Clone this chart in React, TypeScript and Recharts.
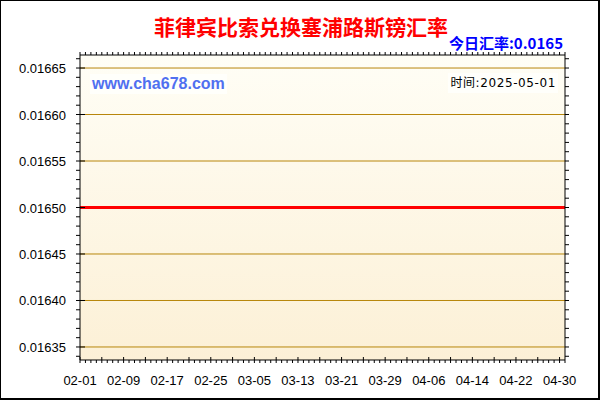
import React from 'react'
import { LineChart, Line, XAxis, YAxis, CartesianGrid, ReferenceLine } from 'recharts'

// daily dates shown on the chart, 02-01 .. 05-01
const dates = [
  '02-01', '02-02', '02-03', '02-04', '02-05', '02-06', '02-07', '02-08', '02-09', '02-10',
  '02-11', '02-12', '02-13', '02-14', '02-15', '02-16', '02-17', '02-18', '02-19', '02-20',
  '02-21', '02-22', '02-23', '02-24', '02-25', '02-26', '02-27', '02-28',
  '03-01', '03-02', '03-03', '03-04', '03-05', '03-06', '03-07', '03-08', '03-09', '03-10',
  '03-11', '03-12', '03-13', '03-14', '03-15', '03-16', '03-17', '03-18', '03-19', '03-20',
  '03-21', '03-22', '03-23', '03-24', '03-25', '03-26', '03-27', '03-28', '03-29', '03-30', '03-31',
  '04-01', '04-02', '04-03', '04-04', '04-05', '04-06', '04-07', '04-08', '04-09', '04-10',
  '04-11', '04-12', '04-13', '04-14', '04-15', '04-16', '04-17', '04-18', '04-19', '04-20',
  '04-21', '04-22', '04-23', '04-24', '04-25', '04-26', '04-27', '04-28', '04-29', '04-30',
  '05-01',
]

// PHP -> CYP rate, flat over the period
const rates = [
  0.0165, 0.0165, 0.0165, 0.0165, 0.0165, 0.0165, 0.0165, 0.0165, 0.0165, 0.0165,
  0.0165, 0.0165, 0.0165, 0.0165, 0.0165, 0.0165, 0.0165, 0.0165, 0.0165, 0.0165,
  0.0165, 0.0165, 0.0165, 0.0165, 0.0165, 0.0165, 0.0165, 0.0165,
  0.0165, 0.0165, 0.0165, 0.0165, 0.0165, 0.0165, 0.0165, 0.0165, 0.0165, 0.0165,
  0.0165, 0.0165, 0.0165, 0.0165, 0.0165, 0.0165, 0.0165, 0.0165, 0.0165, 0.0165,
  0.0165, 0.0165, 0.0165, 0.0165, 0.0165, 0.0165, 0.0165, 0.0165, 0.0165, 0.0165, 0.0165,
  0.0165, 0.0165, 0.0165, 0.0165, 0.0165, 0.0165, 0.0165, 0.0165, 0.0165, 0.0165,
  0.0165, 0.0165, 0.0165, 0.0165, 0.0165, 0.0165, 0.0165, 0.0165, 0.0165, 0.0165,
  0.0165, 0.0165, 0.0165, 0.0165, 0.0165, 0.0165, 0.0165, 0.0165, 0.0165, 0.0165,
  0.0165,
]

const xLabels = ['02-01', '02-09', '02-17', '02-25', '03-05', '03-13', '03-21', '03-29', '04-06', '04-14', '04-22', '04-30']
const yLabels = [0.01635, 0.0164, 0.01645, 0.0165, 0.01655, 0.0166, 0.01665]
const yMinorTicks = [
  0.01634, 0.01635, 0.01636, 0.01637, 0.01638, 0.01639, 0.0164, 0.01641, 0.01642, 0.01643, 0.01644,
  0.01645, 0.01646, 0.01647, 0.01648, 0.01649, 0.0165, 0.01651, 0.01652, 0.01653, 0.01654, 0.01655,
  0.01656, 0.01657, 0.01658, 0.01659, 0.0166, 0.01661, 0.01662, 0.01663, 0.01664, 0.01665, 0.01666,
]

const title = '菲律宾比索兑换塞浦路斯镑汇率'
const todayRate = '今日汇率:0.0165'
const timeText = '时间:2025-05-01'
const site = 'www.cha678.com'

const data = dates.map((d, i) => ({ i, date: d, rate: rates[i] }))
const xTicks = data.map((d) => d.i)

const latin = '"Liberation Sans", Arial, sans-serif'
const cjk = '"Noto Sans CJK SC", "Liberation Sans", sans-serif'

const isLabelY = (v: number) => yLabels.some((l) => Math.abs(l - v) < 1e-9)

const BottomTick = (props: any) => {
  const { x, y, payload } = props
  const i = payload.value
  const major = i % 4 === 0
  const label = xLabels.includes(dates[i])
  return (
    <g>
      <line x1={x} x2={x} y1={major ? y - 3 : y} y2={y + 3} stroke="#000" />
      {label && (
        <text x={x} y={y + 25} textAnchor="middle" fontSize={13} fontFamily={latin} fill="#000">
          {dates[i]}
        </text>
      )}
    </g>
  )
}

const TopTick = (props: any) => {
  const { x, y } = props
  return <line x1={x} x2={x} y1={y} y2={y - 3} stroke="#000" />
}

const LeftTick = (props: any) => {
  const { x, y, payload } = props
  const v = payload.value
  const major = isLabelY(v)
  return (
    <g>
      <line x1={x - 4} x2={major ? x + 5 : x} y1={y} y2={y} stroke="#000" />
      {major && (
        <text x={x - 14} y={y + 5} textAnchor="end" fontSize={13} fontFamily={latin} fill="#000">
          {v.toFixed(5)}
        </text>
      )}
    </g>
  )
}

const RightTick = (props: any) => {
  const { x, y } = props
  return <line x1={x} x2={x + 4} y1={y} y2={y} stroke="#000" />
}

export default function App() {
  return (
    <div
      style={{
        position: 'absolute',
        left: 0,
        top: 0,
        width: 600,
        height: 400,
        boxSizing: 'border-box',
        borderLeft: '1px solid #000',
        borderTop: '1px solid #000',
        borderRight: '2px solid #000',
        borderBottom: '2px solid #000',
        background: '#fff',
        overflow: 'hidden',
      }}
    >
      <div style={{ position: 'absolute', left: -1, top: -1 }}>
        <LineChart width={600} height={400} data={data} margin={{ top: 45, left: 10, right: 25, bottom: 10 }}>
          <defs>
            <linearGradient id="plotBg" x1="0" y1="0" x2="0" y2="1">
              <stop offset="0%" stopColor="#fffef6" />
              <stop offset="100%" stopColor="#fcf0d6" />
            </linearGradient>
          </defs>
          <CartesianGrid horizontal={false} vertical={false} fill="url(#plotBg)" fillOpacity={1} />
          {yLabels.map((v) => (
            <ReferenceLine key={v} y={v} yAxisId="left" stroke="#b8860b" strokeWidth={1} />
          ))}
          <XAxis
            xAxisId="bottom"
            dataKey="i"
            type="number"
            domain={[0, 89]}
            ticks={xTicks}
            interval={0}
            height={30}
            tickSize={0}
            tickMargin={0}
            tickLine={false}
            axisLine={{ stroke: '#000' }}
            tick={<BottomTick />}
          />
          <XAxis
            xAxisId="top"
            orientation="top"
            dataKey="i"
            type="number"
            domain={[0, 89]}
            ticks={xTicks}
            interval={0}
            height={10}
            tickSize={0}
            tickMargin={0}
            tickLine={false}
            axisLine={{ stroke: '#000' }}
            tick={<TopTick />}
          />
          <YAxis
            yAxisId="left"
            type="number"
            domain={[0.016336, 0.016664]}
            allowDataOverflow
            ticks={yMinorTicks}
            interval={0}
            width={70}
            tickSize={0}
            tickMargin={0}
            tickLine={false}
            axisLine={{ stroke: '#000' }}
            tick={<LeftTick />}
          />
          <YAxis
            yAxisId="right"
            orientation="right"
            type="number"
            domain={[0.016336, 0.016664]}
            allowDataOverflow
            ticks={yMinorTicks}
            interval={0}
            width={10}
            tickSize={0}
            tickMargin={0}
            tickLine={false}
            axisLine={{ stroke: '#000' }}
            tick={<RightTick />}
          />
          <Line
            xAxisId="bottom"
            yAxisId="left"
            type="linear"
            dataKey="rate"
            stroke="#ff0000"
            strokeWidth={3}
            dot={false}
            isAnimationActive={false}
          />
        </LineChart>
      </div>
      <div
        style={{
          position: 'absolute',
          left: 0,
          width: 600,
          top: 10,
          textAlign: 'center',
          color: '#ff0000',
          fontFamily: cjk,
          fontWeight: 'bold',
          fontSize: 21,
          lineHeight: '30px',
        }}
      >
        {title}
      </div>
      <div
        style={{
          position: 'absolute',
          right: 35,
          top: 33,
          color: '#0000ff',
          fontFamily: cjk,
          fontWeight: 'bold',
          fontSize: 15,
          lineHeight: '18px',
          whiteSpace: 'nowrap',
        }}
      >
        {todayRate}
      </div>
      <div
        style={{
          position: 'absolute',
          left: 89,
          top: 73,
          padding: '0 2px',
          background: '#fffffb',
          color: '#5070f0',
          fontFamily: latin,
          fontWeight: 'bold',
          fontSize: 16,
          lineHeight: '20px',
        }}
      >
        {site}
      </div>
      <div
        style={{
          position: 'absolute',
          right: 40,
          top: 72,
          padding: '0 2px',
          background: '#fffffb',
          color: '#000',
          fontFamily: '"DejaVu Sans", "Noto Sans CJK SC", sans-serif',
          fontSize: 12,
          letterSpacing: 0.6,
          lineHeight: '20px',
          whiteSpace: 'nowrap',
        }}
      >
        {timeText}
      </div>
    </div>
  )
}
